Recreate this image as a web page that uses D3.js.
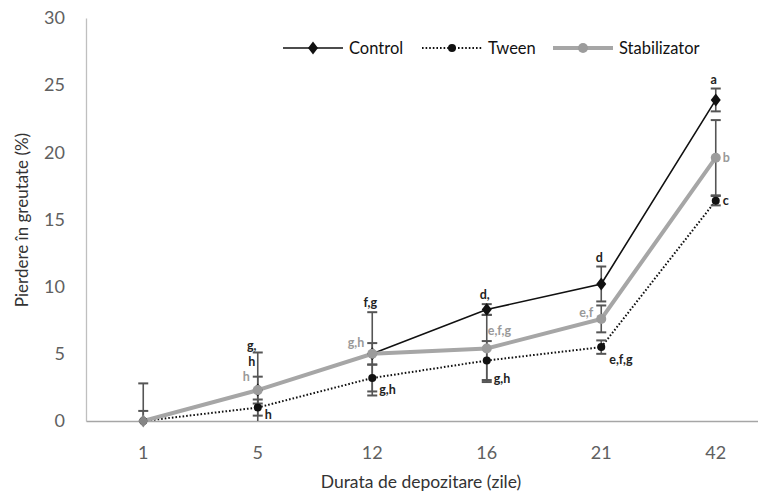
<!DOCTYPE html>
<html>
<head>
<meta charset="utf-8">
<script src="https://cdn.jsdelivr.net/npm/d3@7"></script>
<style>
  html, body { margin: 0; padding: 0; background: #fff; }
  svg { display: block; font-family: Lato, "Open Sans", sans-serif; }
</style>
</head>
<body>
<svg id="chart" width="758" height="493"></svg>
<script>
// Storage days and weight-loss series (%)
const categories = ["1", "5", "12", "16", "21", "42"];
const control      = [0, 2.3, 5.0, 8.3, 10.2, 23.9];
const controlErr   = [2.8, 2.8, 3.1, 0.4, 1.3, 0.85];
const tween        = [0, 1.0, 3.2, 4.5, 5.5, 16.4];
const tweenErr     = [0, 0.6, 1.0, 1.45, 0.5, 0.35];
const stabilizator = [0, 2.3, 5.0, 5.4, 7.6, 19.6];
const stabErr      = [0.75, 1.0, 0.8, 2.5, 1.0, 2.8];
const controlLetters = ["", "g,|h", "f,g", "d,", "d", "a"];
const tweenLetters   = ["", "h", "g,h", "g,h", "e,f,g", "c"];
const stabLetters    = ["", "h", "g,h", "e,f,g", "e,f", "b"];
const yTicks = [0, 5, 10, 15, 20, 25, 30];

const svg = d3.select("#chart");
const plotLeft = 86, plotTop = 18, plotBottom = 421, step = 114.5;
const plotRight = plotLeft + step * categories.length;

const x = d3.scaleBand().domain(categories).range([plotLeft, plotRight]);
const y = d3.scaleLinear().domain([0, 30]).range([plotBottom, plotTop]);
const cx = c => x(c) + x.bandwidth() / 2;

// Axes
const yAxis = svg.append("g").attr("transform", `translate(${plotLeft},0)`)
  .call(d3.axisLeft(y).tickValues(yTicks).tickSize(0).tickPadding(21));
yAxis.select(".domain").attr("stroke", "#bfbfbf").attr("stroke-width", 1.3);
yAxis.selectAll("text").attr("fill", "#606060").style("font-size", "18px")
  .style("font-family", "Lato, sans-serif");

const xAxis = svg.append("g").attr("transform", `translate(0,${plotBottom})`)
  .call(d3.axisBottom(x).tickSize(0).tickPadding(25));
xAxis.select(".domain").attr("stroke", "#a6a6a6").attr("stroke-width", 1.3);
xAxis.selectAll("text").attr("fill", "#606060").style("font-size", "18px")
  .style("font-family", "Lato, sans-serif");

// Axis titles
svg.append("text").attr("transform", "translate(28,220) rotate(-90)")
  .attr("text-anchor", "middle").attr("fill", "#333").style("font-size", "17px")
  .text("Pierdere în greutate (%)");
svg.append("text").attr("x", 421).attr("y", 488)
  .attr("text-anchor", "middle").attr("fill", "#333").style("font-size", "17.5px")
  .text("Durata de depozitare (zile)");

// Plot clip so error bars stop at the axis
svg.append("clipPath").attr("id", "plot")
  .append("rect").attr("x", plotLeft).attr("y", 0).attr("width", plotRight - plotLeft).attr("height", plotBottom);

const plot = svg.append("g").attr("clip-path", "url(#plot)");
const controlS = { vals: control, err: controlErr, color: "#111", width: 1.6, dash: null };
const tweenS = { vals: tween, err: tweenErr, color: "#111", width: 2, dash: "1.6,2" };
const stabS = { vals: stabilizator, err: stabErr, color: "#a6a6a6", width: 4, dash: null };
const seriesList = [controlS, tweenS, stabS];
const line = vals => d3.line().x((d, i) => cx(categories[i])).y(d => y(d))(vals);

seriesList.forEach(s => {
  plot.append("path").attr("d", line(s.vals)).attr("fill", "none")
    .attr("stroke", s.color).attr("stroke-width", s.width)
    .attr("stroke-dasharray", s.dash);
});

// Error bars
const errG = plot.append("g").attr("stroke", "#555").attr("stroke-width", 1.6);
seriesList.forEach(s => {
  s.vals.forEach((v, i) => {
    if (!s.err[i]) return;
    const px = cx(categories[i]);
    const hi = y(v + s.err[i]), lo = y(v - s.err[i]);
    errG.append("line").attr("x1", px).attr("x2", px).attr("y1", hi).attr("y2", lo);
    [hi, lo].forEach(py => errG.append("line")
      .attr("x1", px - 5).attr("x2", px + 5).attr("y1", py).attr("y2", py)
      .attr("stroke-width", 2));
  });
});

// Markers: tween dots, control diamonds, stabilizator dots on top
const diamondPath = "M0,-6.5L5,0L0,6.5L-5,0Z";
const mk = svg.append("g");
tween.forEach((v, i) => mk.append("circle").attr("cx", cx(categories[i])).attr("cy", y(v))
  .attr("r", 4).attr("fill", "#111"));
control.forEach((v, i) => mk.append("path").attr("d", diamondPath)
  .attr("transform", `translate(${cx(categories[i])},${y(v)})`)
  .attr("fill", i === 0 ? "#858585" : "#111"));
stabilizator.forEach((v, i) => { if (i === 0) return;
  mk.append("circle").attr("cx", cx(categories[i])).attr("cy", y(v))
  .attr("r", 5).attr("fill", "#9c9c9c"); });

// Significance letters
const lab = svg.append("g").style("font-size", "12.5px").style("font-weight", "bold")
  .style("font-family", "Lato, sans-serif");
function letter(txt, px, py, anchor, color) {
  const t = lab.append("text").attr("x", px).attr("y", py).attr("text-anchor", anchor)
    .attr("fill", color);
  txt.split("|").forEach((part, k) => t.append("tspan").attr("x", px).attr("dy", k ? 16 : 0).text(part));
}
controlLetters.forEach((t, i) => {
  if (!t) return;
  const px = cx(categories[i]);
  letter(t, i === 1 ? px - 6 : px - 2, y(control[i] + controlErr[i]) - (i === 1 ? 2 : 5), "middle", "#222");
});
stabLetters.forEach((t, i) => {
  if (!t) return;
  const px = cx(categories[i]);
  if (i === 3) letter(t, px + 1, y(stabilizator[i]) - 13, "start", "#999");
  else if (i === 5) letter(t, px + 7, y(stabilizator[i]) + 4, "start", "#999");
  else letter(t, px - 8, y(stabilizator[i] + stabErr[i]) + (i === 4 ? 12 : 4), "end", "#999");
});
tweenLetters.forEach((t, i) => {
  if (!t) return;
  const px = cx(categories[i]);
  if (i === 5) letter(t, px + 7, y(tween[i]) + 4, "start", "#222");
  else if (i === 4) letter(t, px + 8, y(tween[i] - tweenErr[i]) + 10, "start", "#222");
  else letter(t, px + 7, y(tween[i] - tweenErr[i]) + 3, "start", "#222");
});

// Legend
const lg = svg.append("g").style("font-size", "16.5px").style("font-family", "Lato, sans-serif");
const legendItems = [
  { name: "Control", x0: 283, s: controlS, mark: "diamond" },
  { name: "Tween", x0: 422, s: tweenS, mark: "dot" },
  { name: "Stabilizator", x0: 553, s: stabS, mark: "grey" }
];
legendItems.forEach(it => {
  const ly = 48;
  lg.append("line").attr("x1", it.x0).attr("x2", it.x0 + 60).attr("y1", ly).attr("y2", ly)
    .attr("stroke", it.s.color).attr("stroke-width", it.s.width).attr("stroke-dasharray", it.s.dash);
  if (it.mark === "diamond") lg.append("path").attr("d", diamondPath)
    .attr("transform", `translate(${it.x0 + 30},${ly})`).attr("fill", "#111");
  else lg.append("circle").attr("cx", it.x0 + 30).attr("cy", ly)
    .attr("r", it.mark === "dot" ? 4 : 5).attr("fill", it.mark === "dot" ? "#111" : "#9c9c9c");
  lg.append("text").attr("x", it.x0 + 66).attr("y", ly + 6).attr("fill", "#111").text(it.name);
});
</script>
</body>
</html>
